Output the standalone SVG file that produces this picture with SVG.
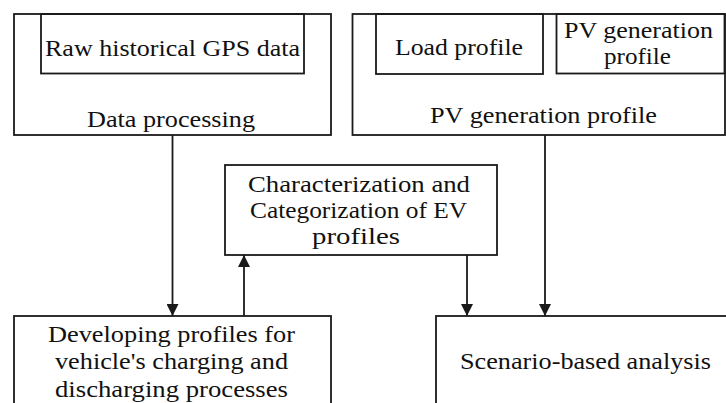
<svg xmlns="http://www.w3.org/2000/svg" width="726" height="403" viewBox="0 0 726 403">
  <style>
    .box { fill: none; stroke: #1a1a1a; stroke-width: 1.8; }
    .lbl { font-family: "Liberation Serif", "Times New Roman", serif; font-size: 24px; fill: #111; text-anchor: middle; }
    .wire { stroke: #1a1a1a; stroke-width: 1.8; fill: none; marker-end: url(#tip); }
  </style>
  <defs>
    <marker id="tip" viewBox="0 0 12 12" refX="12" refY="6" markerWidth="12" markerHeight="12" markerUnits="userSpaceOnUse" orient="auto">
      <path d="M0,0 L12,6 L0,12 Z" fill="#1a1a1a"/>
    </marker>
  </defs>
  <rect width="726" height="403" fill="#ffffff"/>

  <g id="data-processing">
    <rect class="box" x="14" y="14" width="317" height="121"/>
    <rect class="box" x="41" y="14" width="263" height="59.5"/>
    <text class="lbl" x="172.5" y="56" textLength="255" lengthAdjust="spacingAndGlyphs">Raw historical GPS data</text>
    <text class="lbl" x="171" y="127" textLength="168" lengthAdjust="spacingAndGlyphs">Data processing</text>
  </g>

  <g id="pv-generation">
    <rect class="box" x="352.5" y="14" width="372.5" height="121"/>
    <rect class="box" x="376" y="14" width="167" height="60"/>
    <rect class="box" x="556.5" y="14" width="168" height="59.5"/>
    <text class="lbl" x="459" y="55" textLength="128" lengthAdjust="spacingAndGlyphs">Load profile</text>
    <text class="lbl" x="638.5" y="38" textLength="149" lengthAdjust="spacingAndGlyphs">PV generation</text>
    <text class="lbl" x="637.5" y="64" textLength="67" lengthAdjust="spacingAndGlyphs">profile</text>
    <text class="lbl" x="543.5" y="123" textLength="227" lengthAdjust="spacingAndGlyphs">PV generation profile</text>
  </g>

  <g id="characterization">
    <rect class="box" x="225" y="165" width="272" height="90"/>
    <text class="lbl" x="359" y="192" textLength="222" lengthAdjust="spacingAndGlyphs">Characterization and</text>
    <text class="lbl" x="358.5" y="218" textLength="217" lengthAdjust="spacingAndGlyphs">Categorization of EV</text>
    <text class="lbl" x="356" y="244" textLength="88" lengthAdjust="spacingAndGlyphs">profiles</text>
  </g>

  <g id="developing-profiles">
    <rect class="box" x="14" y="316" width="317" height="100"/>
    <text class="lbl" x="171.5" y="342" textLength="247" lengthAdjust="spacingAndGlyphs">Developing profiles for</text>
    <text class="lbl" x="171.5" y="369" textLength="233" lengthAdjust="spacingAndGlyphs">vehicle's charging and</text>
    <text class="lbl" x="171.5" y="397" textLength="233" lengthAdjust="spacingAndGlyphs">discharging processes</text>
  </g>

  <g id="scenario-analysis">
    <rect class="box" x="436" y="316" width="300" height="100"/>
    <text class="lbl" x="585.5" y="369" textLength="251" lengthAdjust="spacingAndGlyphs">Scenario-based analysis</text>
  </g>

  <g id="connectors">
    <line class="wire" x1="172.5" y1="135" x2="172.5" y2="316"/>
    <line class="wire" x1="244" y1="316" x2="244" y2="255"/>
    <line class="wire" x1="467" y1="255" x2="467" y2="316"/>
    <line class="wire" x1="545" y1="135" x2="545" y2="316"/>
  </g>
</svg>
